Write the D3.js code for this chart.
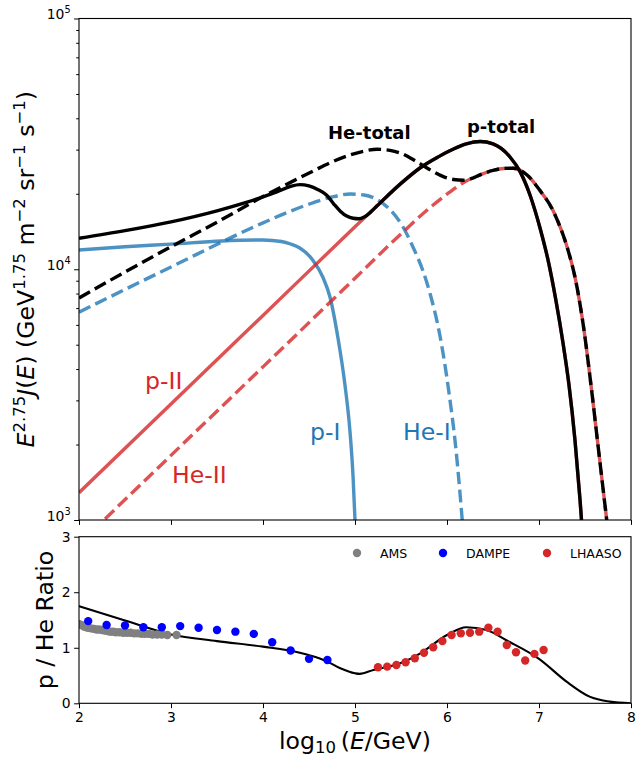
<!DOCTYPE html>
<html>
<head>
<meta charset="utf-8">
<script src="https://cdn.jsdelivr.net/npm/d3@7"></script>
<style>
  body { margin: 0; background: #fff; }
  svg { display: block; font-family: "DejaVu Sans", sans-serif; }
</style>
</head>
<body>
<svg id="chart" width="636" height="758"></svg>
<script>
// ---- Spectra: log10(E/GeV) and E^2.75 J(E) ----
const pI_logE  = [2.0, 2.5, 3.0, 3.55, 4.0, 4.2, 4.3, 4.4, 4.54, 4.65, 4.728, 4.815, 4.891, 4.946, 4.978, 5.0, 5.011];
const pI_flux  = [11940, 12300, 12590, 12970, 13090, 12900, 12610, 12160, 10890, 9310, 7750, 5318, 3454, 2243, 1512, 1000, 795];

const heI_logE = [2.0, 3.0, 4.0, 4.3, 4.55, 4.75, 4.95, 5.1, 5.24, 5.38, 5.522, 5.63, 5.739, 5.826, 5.924, 6.022, 6.098, 6.152, 6.174];
const heI_flux = [6745, 10210, 15310, 17060, 18450, 19410, 19950, 19770, 18970, 17300, 14740, 12270, 9840, 7750, 5417, 3210, 1902, 1148, 912];

const pII_logE = [2.0, 3.0, 4.0, 5.0, 5.24, 5.5, 5.71, 5.9, 6.065, 6.21, 6.36, 6.5, 6.685, 6.794, 6.902, 7.011, 7.098, 7.185, 7.261, 7.326, 7.391, 7.446, 7.478, 7.52];
const pII_flux = [1285, 2900, 6543, 14770, 17900, 22000, 25400, 28000, 30100, 31600, 32300, 31600, 28030, 24510, 19780, 14610, 10890, 7470, 5080, 3454, 2084, 1202, 832, 525];

const heII_logE = [2.0, 3.0, 4.0, 5.0, 5.5, 5.75, 6.0, 6.2, 6.36, 6.5, 6.61, 6.72, 6.87, 7.011, 7.141, 7.228, 7.315, 7.402, 7.489, 7.565, 7.641, 7.717, 7.794];
const heII_flux = [802, 1810, 4080, 9210, 13840, 16790, 19950, 22390, 23800, 24770, 25230, 25290, 23760, 20590, 17460, 14800, 11940, 8896, 5724, 3454, 1991, 1148, 661];

const pTot_logE = [2.0, 2.5, 3.0, 3.5, 3.8, 4.0, 4.15, 4.3, 4.4, 4.5, 4.6, 4.69, 4.77, 4.84, 4.91, 4.98, 5.04, 5.10, 5.17, 5.24, 5.5, 5.71, 5.9, 6.065, 6.21, 6.36, 6.5, 6.685, 6.794, 6.902, 7.011, 7.098, 7.185, 7.261, 7.326, 7.391, 7.446, 7.478, 7.52];
const pTot_flux = [13290, 14250, 15450, 17100, 18400, 19450, 20350, 21400, 21750, 21500, 20750, 19780, 18200, 17050, 16300, 15970, 15900, 16150, 16900, 17900, 22000, 25400, 28000, 30100, 31600, 32300, 31600, 28030, 24510, 19780, 14610, 10890, 7470, 5080, 3454, 2084, 1202, 832, 525];

const heTot_logE = [2.0, 2.5, 3.0, 3.5, 4.0, 4.35, 4.55, 4.75, 4.95, 5.1, 5.24, 5.38, 5.52, 5.63, 5.74, 5.85, 5.96, 6.07, 6.18, 6.28, 6.36, 6.5, 6.61, 6.72, 6.87, 7.011, 7.141, 7.228, 7.315, 7.402, 7.489, 7.565, 7.641, 7.717, 7.794];
const heTot_flux = [7680, 9750, 12300, 15400, 19500, 22700, 24700, 26800, 28600, 29600, 30100, 29800, 28800, 27400, 25900, 24500, 23400, 22800, 22650, 23100, 23800, 24770, 25230, 25290, 23760, 20590, 17460, 14800, 11940, 8896, 5724, 3454, 1991, 1148, 661];

// ---- p/He ratio: model curve and measurements ----
const ratio_logE = [2.0, 2.5, 3.0, 3.5, 4.0, 4.4, 4.61, 4.7, 4.84, 5.0, 5.05, 5.2, 5.49, 5.71, 6.0, 6.21, 6.43, 6.65, 7.0, 7.3, 7.55, 7.77, 8.0];
const ratio_val  = [1.75, 1.49, 1.24, 1.12, 1.02, 0.91, 0.81, 0.75, 0.63, 0.54, 0.53, 0.60, 0.72, 0.90, 1.23, 1.37, 1.32, 1.13, 0.80, 0.39, 0.12, 0.03, 0.0];

const ams_logE = [2.00, 2.02, 2.04, 2.06, 2.08, 2.10, 2.13, 2.16, 2.19, 2.22, 2.25, 2.28, 2.31, 2.34, 2.37, 2.40, 2.44, 2.48, 2.52, 2.56, 2.60, 2.64, 2.68, 2.72, 2.76, 2.80, 2.85, 2.90, 2.96, 3.06];
const ams_ratio = [1.43, 1.41, 1.40, 1.38, 1.37, 1.36, 1.35, 1.34, 1.33, 1.33, 1.32, 1.31, 1.30, 1.29, 1.29, 1.28, 1.28, 1.27, 1.27, 1.27, 1.26, 1.26, 1.25, 1.25, 1.25, 1.24, 1.24, 1.24, 1.23, 1.23];

const dampe_logE = [2.1, 2.3, 2.5, 2.7, 2.9, 3.1, 3.3, 3.5, 3.7, 3.9, 4.1, 4.3, 4.5, 4.7];
const dampe_ratio = [1.48, 1.41, 1.40, 1.37, 1.37, 1.39, 1.36, 1.32, 1.29, 1.25, 1.10, 0.95, 0.80, 0.78];

const lhaaso_logE = [5.25, 5.35, 5.45, 5.55, 5.65, 5.75, 5.85, 5.95, 6.05, 6.15, 6.25, 6.35, 6.45, 6.55, 6.65, 6.75, 6.85, 6.95, 7.05];
const lhaaso_ratio = [0.65, 0.66, 0.69, 0.74, 0.81, 0.91, 1.01, 1.12, 1.23, 1.26, 1.27, 1.29, 1.36, 1.29, 1.05, 0.92, 0.77, 0.89, 0.96];

// ---- Axis ticks and labels ----
const xTicks = [2, 3, 4, 5, 6, 7, 8];
const yTopMajor = [1e3, 1e4, 1e5];
const yTopExp = ["3", "4", "5"];
const yBotTicks = [0, 1, 2, 3];

// curve annotations: text, log10E, flux at baseline
const annotations = [
  { text: "p-II",     logE: 2.717, flux: 3331,  color: "#d62728", bold: false },
  { text: "He-II",    logE: 3.011, flux: 1405,  color: "#d62728", bold: false },
  { text: "p-I",      logE: 4.511, flux: 2084,  color: "#1f77b4", bold: false },
  { text: "He-I",     logE: 5.522, flux: 2084,  color: "#1f77b4", bold: false },
  { text: "He-total", logE: 4.707, flux: 33070, color: "#000",    bold: true  },
  { text: "p-total",  logE: 6.217, flux: 34940, color: "#000",    bold: true  }
];

const legendNames = ["AMS", "DAMPE", "LHAASO"];
const legendColors = ["#808080", "#0000ff", "#d62728"];

// ---- Layout ----
const svg = d3.select("#chart");
const L = 79, R = 631;
const topT = 18.5, topB = 520;
const botT = 536.7, botB = 703.3;
const FS_TICK = 13.9, FS_LABEL = 23.6;

const x = d3.scaleLinear().domain([2, 8]).range([L, R]);
const yTop = d3.scaleLog().domain([1e3, 1e5]).range([topB, topT]);
const yBot = d3.scaleLinear().domain([0, 3]).range([botB, botT]);

const zip = (a, b) => a.map((v, i) => [v, b[i]]);

// text with super/subscripts as tspans
function mathText(sel, parts, fs) {
  let shift = 0;
  parts.forEach(p => {
    const target = p.sup ? -0.4 * fs : (p.sub ? 0.18 * fs : 0);
    const ts = sel.append("tspan").text(p.t).attr("dy", target - shift);
    shift = target;
    if (p.sup || p.sub) ts.attr("font-size", 0.7 * fs);
    if (p.it) ts.attr("font-style", "italic");
  });
}

const defs = svg.append("defs");
defs.append("clipPath").attr("id", "clipTop")
  .append("rect").attr("x", L).attr("y", topT).attr("width", R - L).attr("height", topB - topT);
defs.append("clipPath").attr("id", "clipBot")
  .append("rect").attr("x", L).attr("y", botT).attr("width", R - L).attr("height", botB - botT);

// ================= Top panel: spectra =================
const gTop = svg.append("g").attr("clip-path", "url(#clipTop)");
const lineTop = d3.line().x(d => x(d[0])).y(d => yTop(d[1])).curve(d3.curveMonotoneX);

const LW = 3.4, DASH = "12.6,5.5";
const series = [
  { e: pI_logE,   f: pI_flux,   color: "#1f77b4", op: 0.8, dash: null },
  { e: heI_logE,  f: heI_flux,  color: "#1f77b4", op: 0.8, dash: DASH },
  { e: pII_logE,  f: pII_flux,  color: "#d62728", op: 0.8, dash: null },
  { e: heII_logE, f: heII_flux, color: "#d62728", op: 0.8, dash: DASH },
  { e: pTot_logE, f: pTot_flux, color: "#000",    op: 1,   dash: null },
  { e: heTot_logE,f: heTot_flux,color: "#000",    op: 1,   dash: DASH }
];
series.forEach(s => {
  gTop.append("path")
    .datum(zip(s.e, s.f))
    .attr("d", lineTop)
    .attr("fill", "none")
    .attr("stroke", s.color)
    .attr("stroke-opacity", s.op)
    .attr("stroke-width", LW)
    .attr("stroke-dasharray", s.dash)
    .attr("stroke-linecap", "butt");
});

annotations.forEach(a => {
  svg.append("text")
    .attr("x", x(a.logE)).attr("y", yTop(a.flux))
    .attr("font-size", a.bold ? 18 : FS_LABEL)
    .attr("font-weight", a.bold ? "bold" : "normal")
    .attr("fill", a.color)
    .text(a.text);
});

// top-panel axes
const yMinor = [];
[1e3, 1e4].forEach(b => { for (let k = 2; k <= 9; k++) yMinor.push(k * b); });

const axTopMinor = svg.append("g").attr("transform", `translate(${L},0)`)
  .call(d3.axisLeft(yTop).tickValues(yMinor).tickSize(2.8).tickFormat(""));
axTopMinor.select(".domain").remove();

const axTopY = svg.append("g").attr("transform", `translate(${L},0)`)
  .call(d3.axisLeft(yTop).tickValues(yTopMajor).tickSize(4.9).tickPadding(3.5).tickFormat(""));
axTopY.select(".domain").remove();
axTopY.selectAll(".tick text").each(function (d, i) {
  const t = d3.select(this).attr("font-size", FS_TICK).attr("font-family", "DejaVu Sans").attr("fill", "#000");
  t.text(null);
  mathText(t, [{ t: "10" }, { t: yTopExp[i], sup: true }], FS_TICK);
});

const axTopX = svg.append("g").attr("transform", `translate(0,${topB})`)
  .call(d3.axisBottom(x).tickValues(xTicks).tickSize(4.9).tickFormat(""));
axTopX.select(".domain").remove();

svg.append("rect").attr("x", L).attr("y", topT).attr("width", R - L).attr("height", topB - topT)
  .attr("fill", "none").attr("stroke", "#000").attr("stroke-width", 1.1);

// y label of top panel
const yl = svg.append("text")
  .attr("transform", `translate(34,${(topT + topB) / 2}) rotate(-90)`)
  .attr("text-anchor", "middle")
  .attr("font-size", FS_LABEL)
  .attr("fill", "#000");
mathText(yl, [
  { t: "E", it: true }, { t: "2.75", sup: true },
  { t: "J", it: true }, { t: "(" }, { t: "E", it: true }, { t: ") (GeV" },
  { t: "1.75", sup: true }, { t: " m" }, { t: "\u22122", sup: true },
  { t: " sr" }, { t: "\u22121", sup: true }, { t: " s" }, { t: "\u22121", sup: true },
  { t: ")" }
], FS_LABEL);

// ================= Bottom panel: p/He ratio =================
const gBot = svg.append("g").attr("clip-path", "url(#clipBot)");
const lineBot = d3.line().x(d => x(d[0])).y(d => yBot(d[1])).curve(d3.curveMonotoneX);

gBot.append("path")
  .datum(zip(ratio_logE, ratio_val))
  .attr("d", lineBot)
  .attr("fill", "none").attr("stroke", "#000").attr("stroke-width", 2.1);

const MR = 4.2;
const dataSets = [
  { e: ams_logE, r: ams_ratio, color: legendColors[0] },
  { e: dampe_logE, r: dampe_ratio, color: legendColors[1] },
  { e: lhaaso_logE, r: lhaaso_ratio, color: legendColors[2] }
];
dataSets.forEach(ds => {
  gBot.selectAll(null).data(zip(ds.e, ds.r)).enter().append("circle")
    .attr("cx", d => x(d[0])).attr("cy", d => yBot(d[1]))
    .attr("r", MR).attr("fill", ds.color);
});

// legend (no frame)
const legX = [357, 443, 547];
legendNames.forEach((name, i) => {
  svg.append("circle").attr("cx", legX[i]).attr("cy", 553).attr("r", MR).attr("fill", legendColors[i]);
  svg.append("text").attr("x", legX[i] + 23).attr("y", 557.5)
    .attr("font-size", 12.5).attr("fill", "#000").text(name);
});

const axBotY = svg.append("g").attr("transform", `translate(${L},0)`)
  .call(d3.axisLeft(yBot).tickValues(yBotTicks).tickSize(4.9).tickPadding(3.5).tickFormat(d3.format("d")));
axBotY.select(".domain").remove();
axBotY.selectAll("text").attr("font-size", FS_TICK).attr("font-family", "DejaVu Sans").attr("fill", "#000");

const axBotX = svg.append("g").attr("transform", `translate(0,${botB})`)
  .call(d3.axisBottom(x).tickValues(xTicks).tickSize(4.9).tickPadding(3.5).tickFormat(d3.format("d")));
axBotX.select(".domain").remove();
axBotX.selectAll("text").attr("font-size", FS_TICK).attr("font-family", "DejaVu Sans").attr("fill", "#000");

svg.append("rect").attr("x", L).attr("y", botT).attr("width", R - L).attr("height", botB - botT)
  .attr("fill", "none").attr("stroke", "#000").attr("stroke-width", 1.1);

// axis labels
svg.append("text")
  .attr("transform", `translate(53,${(botT + botB) / 2}) rotate(-90)`)
  .attr("text-anchor", "middle")
  .attr("font-size", FS_LABEL).attr("fill", "#000")
  .text("p / He Ratio");

const xl = svg.append("text")
  .attr("x", (L + R) / 2).attr("y", 749)
  .attr("text-anchor", "middle")
  .attr("font-size", FS_LABEL).attr("fill", "#000");
mathText(xl, [
  { t: "log" }, { t: "10", sub: true }, { t: "\u2009(" }, { t: "E", it: true }, { t: "/GeV)" }
], FS_LABEL);
</script>
</body>
</html>
